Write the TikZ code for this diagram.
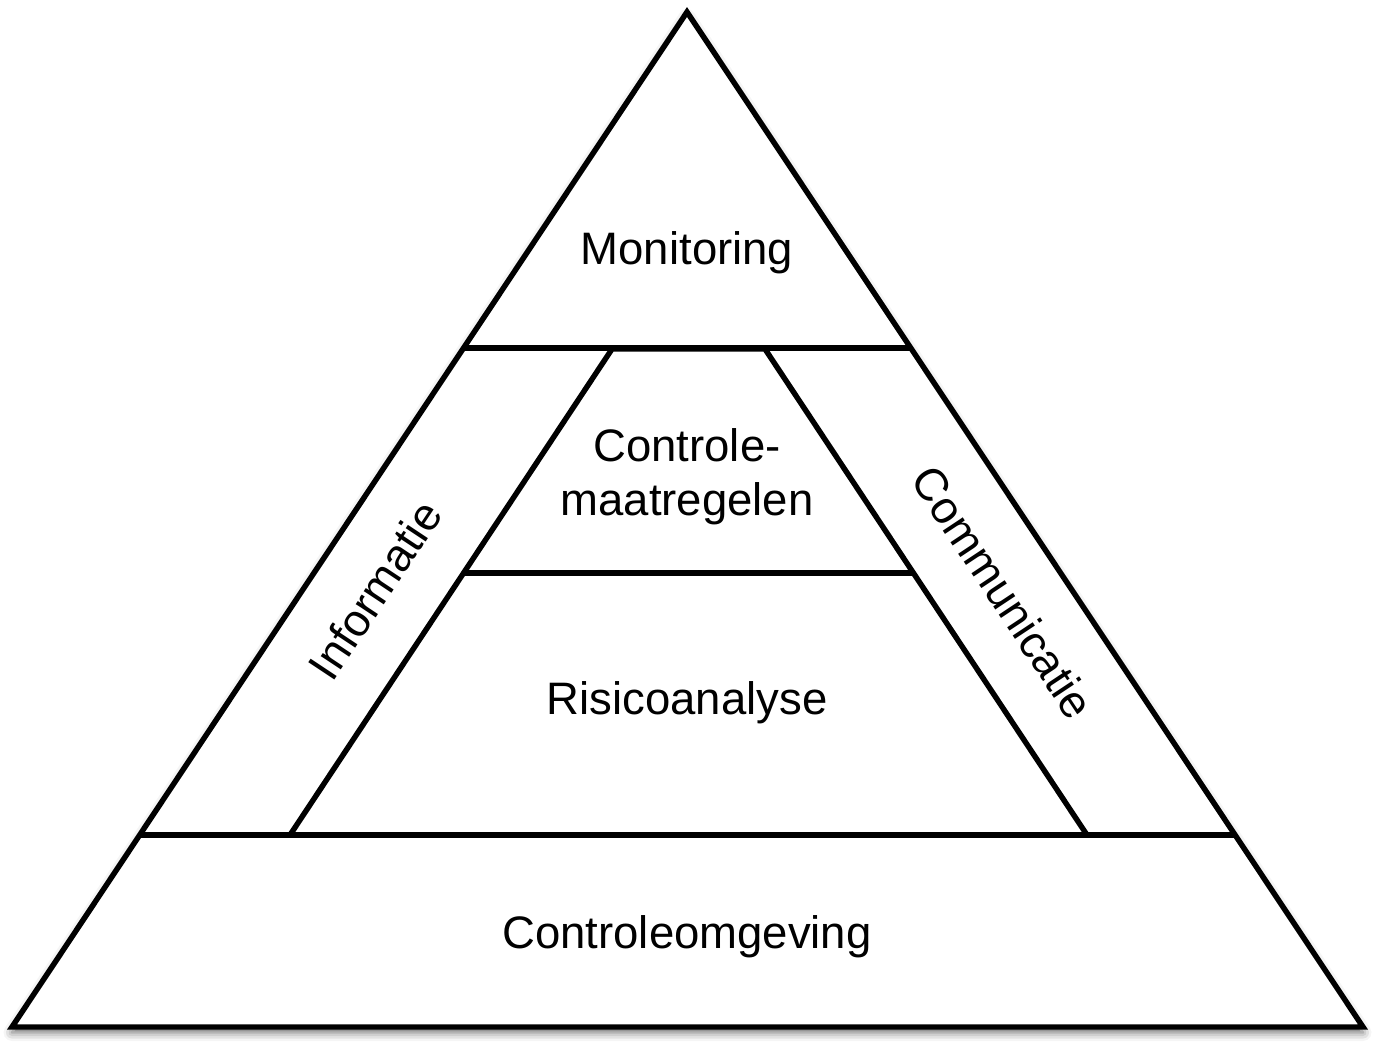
\documentclass[tikz,border=0pt]{standalone}
\usepackage{fontspec}
\setmainfont{Liberation Sans}
\usetikzlibrary{shadows.blur}

\begin{document}
\begin{tikzpicture}[x=0.02cm, y=-0.02cm, lbl/.style={font=\fontsize{25.9}{30.5}\selectfont,align=center,inner sep=0pt}, edge/.style={line width=3.1pt,line join=miter}]
\useasboundingbox (0,0) rectangle (1375,1059);
\coordinate (top) at (687,12);
\coordinate (bl) at (12,1027);
\coordinate (br) at (1363,1027);
\coordinate (m1l) at (464,348);
\coordinate (m1r) at (911,348);
\coordinate (m2l) at (140,835);
\coordinate (m2r) at (1236,835);
\coordinate (itl) at (612,349);
\coordinate (itr) at (765,349);
\coordinate (ibl) at (290,835);
\coordinate (ibr) at (1087,835);
\coordinate (cl) at (464,573);
\coordinate (cr) at (913,573);
\path[fill=white,blur shadow={shadow xshift=0pt,shadow yshift=-0.11cm,shadow blur radius=0.17cm,shadow opacity=60}] (top) -- (bl) -- (br) -- cycle;
\draw[edge] (top) -- (bl) -- (br) -- cycle;
\draw[edge] (m1l) -- (m1r);
\draw[edge] (m2l) -- (m2r);
\draw[edge] (ibl) -- (itl) -- (itr) -- (ibr);
\draw[edge] (cl) -- (cr);
\node[lbl,anchor=base] (monitoring) at (687,264) {Monitoring};
\node[lbl] (maatregelen) at (687,477) {Controle-\\maatregelen};
\node[lbl,anchor=base] (risico) at (687,714) {Risicoanalyse};
\node[lbl,anchor=base] (omgeving) at (687,948) {Controleomgeving};
\node[lbl,rotate=56.4] (informatie) at (375,590) {Informatie};
\node[lbl,rotate=-56.4] (communicatie) at (1003,592) {Communicatie};
\end{tikzpicture}
\end{document}
